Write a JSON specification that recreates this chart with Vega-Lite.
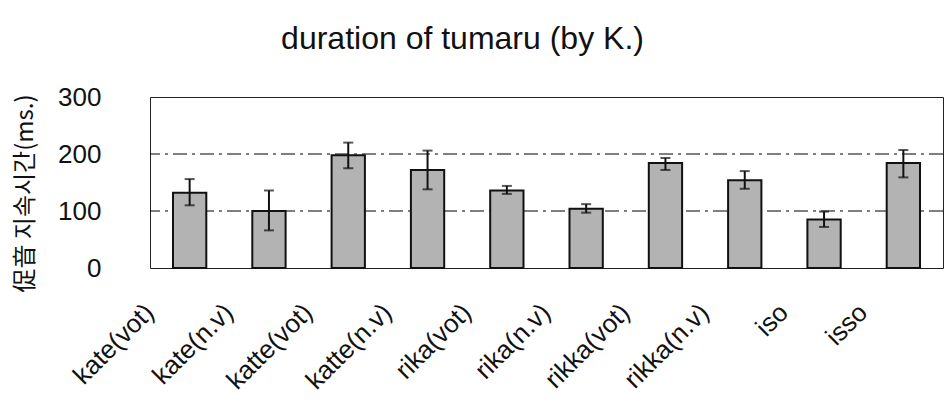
{
  "$schema": "https://vega.github.io/schema/vega-lite/v6.json",
  "autosize": "none",
  "width": 793,
  "height": 171,
  "padding": {"left": 150, "top": 97, "right": 4, "bottom": 140},
  "background": "white",
  "title": {
    "text": "duration of tumaru (by K.)",
    "font": "Liberation Sans",
    "fontSize": 32,
    "fontWeight": "normal",
    "color": "#111",
    "anchor": "middle",
    "frame": "group",
    "dx": -84,
    "offset": 28
  },
  "config": {
    "view": {"stroke": "#222", "strokeWidth": 1},
    "font": "Liberation Sans"
  },
  "data": {
    "values": [
      {"cat": "kate(vot)", "mean": 132, "lo": 110, "hi": 156},
      {"cat": "kate(n.v)", "mean": 100, "lo": 66, "hi": 136},
      {"cat": "katte(vot)", "mean": 198, "lo": 175, "hi": 220},
      {"cat": "katte(n.v)", "mean": 172, "lo": 138, "hi": 206},
      {"cat": "rika(vot)", "mean": 136, "lo": 130, "hi": 144},
      {"cat": "rika(n.v)", "mean": 104, "lo": 97, "hi": 112},
      {"cat": "rikka(vot)", "mean": 184, "lo": 172, "hi": 193},
      {"cat": "rikka(n.v)", "mean": 154, "lo": 139, "hi": 170},
      {"cat": "iso", "mean": 85, "lo": 72, "hi": 99},
      {"cat": "isso", "mean": 184, "lo": 159, "hi": 207}
    ]
  },
  "encoding": {
    "x": {
      "field": "cat",
      "type": "nominal",
      "sort": null,
      "scale": {"paddingInner": 0.58, "paddingOuter": 0.29},
      "axis": {
        "title": null,
        "labelAngle": -45,
        "labelAlign": "right",
        "labelBaseline": "middle",
        "labelFontSize": 26,
        "labelColor": "#111",
        "labelOffset": -40,
        "labelPadding": 40,
        "ticks": false,
        "domain": false
      }
    }
  },
  "layer": [
    {
      "mark": {"type": "rule", "color": "#000", "strokeWidth": 1, "strokeDash": [14, 5, 3, 5]},
      "data": {"values": [{"g": 100}, {"g": 200}]},
      "encoding": {
        "y": {
          "field": "g",
          "type": "quantitative",
          "scale": {"domain": [0, 300]},
          "axis": {
            "title": "促音 지속시간(ms.)",
            "titleFont": "Noto Sans CJK KR",
            "titleFontSize": 24,
            "titleFontWeight": "normal",
            "titleColor": "#111",
            "titlePadding": 20,
            "titleY": 96,
            "titleAnchor": "middle",
            "values": [0, 100, 200, 300],
            "labelFontSize": 26,
            "labelColor": "#111",
            "labelPadding": 49,
            "ticks": false,
            "domain": false,
            "grid": false
          }
        },
        "x": null
      }
    },
    {
      "mark": {"type": "bar", "fill": "#b3b3b3", "stroke": "#111", "strokeWidth": 2},
      "encoding": {
        "y": {"field": "mean", "type": "quantitative"}
      }
    },
    {
      "mark": {"type": "rule", "color": "#111", "strokeWidth": 2},
      "encoding": {
        "y": {"field": "lo", "type": "quantitative"},
        "y2": {"field": "hi"}
      }
    },
    {
      "mark": {"type": "tick", "color": "#111", "thickness": 2, "size": 10},
      "encoding": {"y": {"field": "lo", "type": "quantitative"}}
    },
    {
      "mark": {"type": "tick", "color": "#111", "thickness": 2, "size": 10},
      "encoding": {"y": {"field": "hi", "type": "quantitative"}}
    }
  ]
}
